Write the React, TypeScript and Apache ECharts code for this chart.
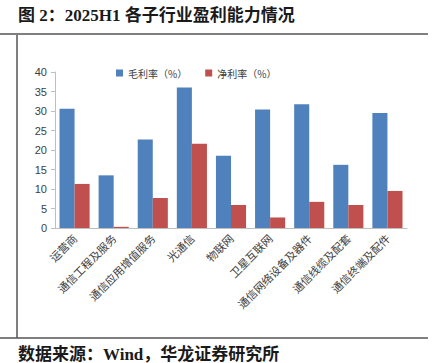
import React, { useEffect, useRef } from "react";
import * as echarts from "echarts";

const categories = [
  "运营商",
  "通信工程及服务",
  "通信应用增值服务",
  "光通信",
  "物联网",
  "卫星互联网",
  "通信网络设备及器件",
  "通信线缆及配套",
  "通信终端及配件",
];
const grossMargin = [30.6, 13.5, 22.7, 36.0, 18.5, 30.4, 31.7, 16.2, 29.5];
const netMargin = [11.3, 0.3, 7.7, 21.6, 5.9, 2.7, 6.7, 5.9, 9.5];
const seriesNames = ["毛利率（%）", "净利率（%）"];
const titleText = "图 2：2025H1 各子行业盈利能力情况";
const sourceText = "数据来源：Wind，华龙证券研究所";

export default function App() {
  const ref = useRef<HTMLDivElement>(null);
  useEffect(() => {
    if (!ref.current) return;
    const chart = echarts.init(ref.current, null, { renderer: "svg" });
    chart.setOption({
      animation: false,
      backgroundColor: "#ffffff",
      grid: { left: 55, right: 27, top: 72, bottom: 135 },
      legend: {
        left: 111,
        top: 63,
        itemWidth: 7,
        itemHeight: 7,
        itemGap: 18,
        icon: "rect",
        textStyle: { fontSize: 10, color: "#404040", fontFamily: "'Noto Sans CJK SC'" },
        data: seriesNames,
      },
      xAxis: {
        type: "category",
        data: categories,
        axisLine: { lineStyle: { color: "#bfbfbf", width: 1 } },
        axisTick: { show: false },
        axisLabel: {
          rotate: 45,
          interval: 0,
          fontSize: 11,
          color: "#404040",
          fontFamily: "'Noto Sans CJK SC'",
          margin: 8,
        },
      },
      yAxis: {
        type: "value",
        min: 0,
        max: 40,
        interval: 5,
        splitLine: { show: false },
        axisLine: { show: true, lineStyle: { color: "#bfbfbf", width: 1 } },
        axisTick: { show: true, length: 4, lineStyle: { color: "#bfbfbf" } },
        axisLabel: { fontSize: 11, color: "#404040", fontFamily: "'Liberation Sans'", margin: 8 },
      },
      series: [
        {
          name: seriesNames[0],
          type: "bar",
          data: grossMargin,
          barGap: "0%",
          barCategoryGap: "23%",
          itemStyle: { color: "#4f81bd" },
        },
        {
          name: seriesNames[1],
          type: "bar",
          data: netMargin,
          itemStyle: { color: "#c0504d" },
        },
      ],
      graphic: [
        {
          type: "text",
          left: 18,
          top: 7,
          style: {
            text: titleText,
            fontSize: 17,
            fontWeight: "bold",
            fill: "#1a1a1a",
            fontFamily: "'Liberation Serif', 'Noto Sans CJK SC'",
          },
        },
        {
          type: "line",
          shape: { x1: 0, y1: 34, x2: 428, y2: 34 },
          style: { stroke: "#7f7f7f", lineWidth: 2 },
        },
        {
          type: "line",
          shape: { x1: 17, y1: 34, x2: 17, y2: 338 },
          style: { stroke: "#7f7f7f", lineWidth: 2 },
        },
        {
          type: "line",
          shape: { x1: 0, y1: 338, x2: 428, y2: 338 },
          style: { stroke: "#555555", lineWidth: 1.5 },
        },
        {
          type: "text",
          left: 18,
          top: 346,
          style: {
            text: sourceText,
            fontSize: 17,
            fontWeight: "bold",
            fill: "#1a1a1a",
            fontFamily: "'Liberation Serif', 'Noto Sans CJK SC'",
          },
        },
      ],
    });
    return () => chart.dispose();
  }, []);
  return (
    <div
      ref={ref}
      style={{ position: "fixed", left: 0, top: 0, width: 434, height: 363 }}
    />
  );
}
